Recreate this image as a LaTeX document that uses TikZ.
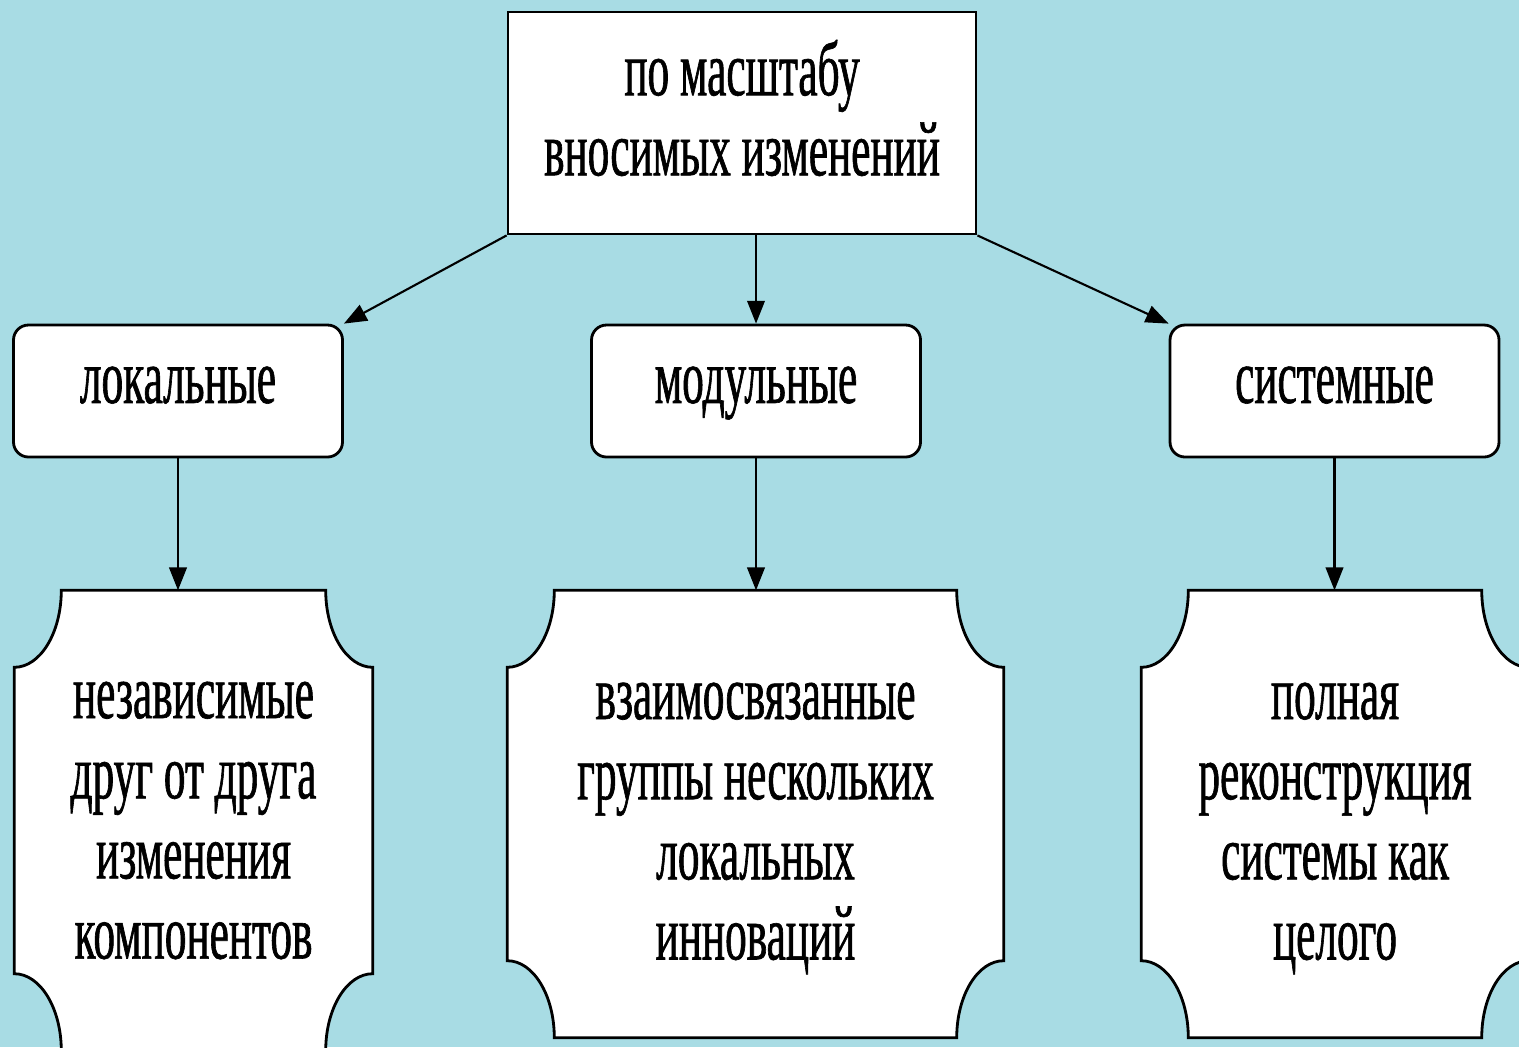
\documentclass[tikz,border=0pt]{standalone}
\usepackage{fontspec}
\setmainfont{Liberation Serif}[FakeStretch=0.56,FakeBold=0.8]
\usepackage{tikz}
\usetikzlibrary{arrows.meta,calc}
\definecolor{dropcyan}{HTML}{A8DCE4}
\pgfdeclarelayer{back}
\pgfsetlayers{back,main}

% frame with hollow corners round a named node (#2 = lift of top edge, #3 = lift of bottom edge)
\newcommand{\plaqueframe}[3]{%
  \filldraw[fill=white,draw=black,line width=0.8pt]
    ($(#1.north west)+(0.47,#2)$) -- ($(#1.north east)+(-0.47,#2)$)
    arc[start angle=180,end angle=270,x radius=0.47,y radius=0.77]
    -- ($(#1.south east)+(0,0.77+#3)$)
    arc[start angle=90,end angle=180,x radius=0.47,y radius=0.77]
    -- ($(#1.south west)+(0.47,#3)$)
    arc[start angle=0,end angle=90,x radius=0.47,y radius=0.77]
    -- ($(#1.north west)+(0,#2-0.77)$)
    arc[start angle=270,end angle=360,x radius=0.47,y radius=0.77]
    -- cycle;}

\begin{document}
\begin{tikzpicture}[font=\fontsize{22}{22.8}\selectfont,
    every node/.style={align=center},
    headbox/.style={draw,line width=0.8pt,fill=white,minimum width=4.68cm,minimum height=2.22cm},
    kindbox/.style={draw,line width=0.8pt,fill=white,rounded corners=0.15cm,minimum width=3.29cm,
      minimum height=1.32cm,text height=0.9em,text depth=0.22em},
    plaquebox/.style={inner sep=0pt,minimum height=4.59cm},
    link/.style={-{Triangle[length=6.5pt,width=5pt]},line width=0.6pt}]
  \useasboundingbox (0,0) rectangle (15.19,-10.47);
  \begin{pgfonlayer}{back}
    \fill[dropcyan] (0,0) rectangle (15.19,-10.47);
  \end{pgfonlayer}

  \node[headbox] (head) at (7.42,-1.23) {};
  \node (headtext) at (7.42,-1.08) {по масштабу\\вносимых изменений};

  \node[kindbox] (loc) at (1.78,-3.91) {локальные};
  \node[kindbox] (mod) at (7.56,-3.91) {модульные};
  \node[kindbox] (sys) at (13.345,-3.91) {системные};

  \node[plaquebox,minimum width=3.57cm] (indep) at (1.935,-8.205)
    {независимые\\друг от друга\\изменения\\компонентов};
  \node[plaquebox,minimum width=4.95cm] (group) at (7.555,-8.285)
    {взаимосвязанные\\группы нескольких\\локальных\\инноваций};
  \node[plaquebox,minimum width=3.86cm] (whole) at (13.35,-8.285)
    {полная\\реконструкция\\системы как\\целого};

  \begin{pgfonlayer}{back}
    \plaqueframe{indep}{0}{0}
    \plaqueframe{group}{0.08}{0.21}
    \plaqueframe{whole}{0.08}{0.21}
  \end{pgfonlayer}

  \draw[link] (head.south west) -- (loc.north east);
  \draw[link] (mod.north |- head.south) -- (mod.north);
  \draw[link] (head.south east) -- (sys.north west);
  \draw[link] (loc.south) -- (loc.south |- indep.north);
  \draw[link] (mod.south) -- ($(mod.south |- group.north)+(0,0.08)$);
  \draw[link] (sys.south) -- ($(sys.south |- whole.north)+(0,0.08)$);
\end{tikzpicture}
\end{document}
